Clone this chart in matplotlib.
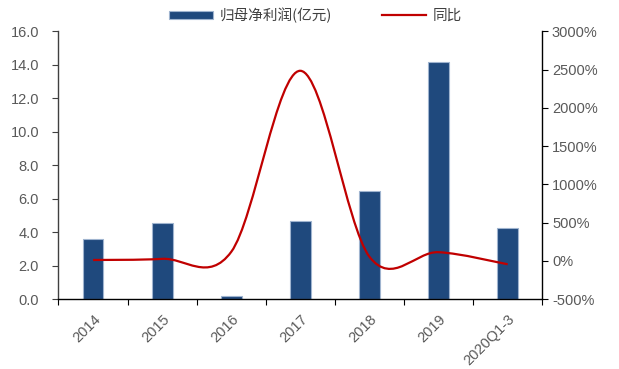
import matplotlib
matplotlib.use("Agg")
import matplotlib.pyplot as plt
import numpy as np
from matplotlib.path import Path
from matplotlib.patches import PathPatch, Patch
from matplotlib.lines import Line2D
from matplotlib.ticker import FixedLocator, FuncFormatter

# data
categories = ["2014", "2015", "2016", "2017", "2018", "2019", "2020Q1-3"]
net_profit = [3.60, 4.54, 0.18, 4.69, 6.47, 14.15, 4.24]   # 归母净利润(亿元)
yoy_pct = [13, 28, 120, 2485, 55, 115, -43]                 # 同比(%)
left_ticks = [0, 2, 4, 6, 8, 10, 12, 14, 16]
right_ticks = [-500, 0, 500, 1000, 1500, 2000, 2500, 3000]

BAR_COLOR = "#1F497D"
LINE_COLOR = "#C00000"
TICK_COLOR = "#595959"
TEXT_FONT = ["Liberation Sans", "DejaVu Sans"]
CJK_FONT = ["Noto Sans CJK SC", "DejaVu Sans"]

plt.rcParams["font.family"] = TEXT_FONT

fig = plt.figure(figsize=(6.19, 3.69), dpi=100)
ax = fig.add_axes([0.0945, 0.189, 0.7815, 0.726])
ax2 = ax.twinx()

x = np.arange(len(categories))
ax.bar(x, net_profit, width=0.3, color=BAR_COLOR, edgecolor="#9FB4CF",
       linewidth=0.8, zorder=2)
ax.set_xlim(-0.5, len(categories) - 0.5)
ax.set_ylim(0, 16)
ax2.set_ylim(-500, 3000)


def smooth_path(xs, ys):
    """Cubic Bezier path through the points (Catmull-Rom style tangents)."""
    pts = np.column_stack([xs, ys]).astype(float)
    n = len(pts)
    verts = [pts[0]]
    codes = [Path.MOVETO]
    for i in range(n - 1):
        p0 = pts[i - 1] if i > 0 else pts[i]
        p1 = pts[i]
        p2 = pts[i + 1]
        p3 = pts[i + 2] if i + 2 < n else pts[i + 1]
        c1 = p1 + (p2 - p0) / 6.0
        c2 = p2 - (p3 - p1) / 6.0
        verts += [c1, c2, p2]
        codes += [Path.CURVE4] * 3
    return Path(verts, codes)


ax2.add_patch(PathPatch(smooth_path(x, yoy_pct), facecolor="none",
                        edgecolor=LINE_COLOR, linewidth=1.6,
                        capstyle="butt", zorder=3))

# spines
for a in (ax, ax2):
    a.spines["top"].set_visible(False)
ax.spines["left"].set_color("#404040")
ax.spines["bottom"].set_color("#000000")
ax2.spines["right"].set_color("#000000")
ax2.spines["left"].set_visible(False)
ax2.spines["bottom"].set_visible(False)
for s in ("left", "bottom"):
    ax.spines[s].set_linewidth(1.0)
ax2.spines["right"].set_linewidth(1.0)
ax.spines["right"].set_visible(False)

# left axis
ax.yaxis.set_major_locator(FixedLocator(left_ticks))
ax.yaxis.set_major_formatter(FuncFormatter(lambda v, p: f"{v:.1f}"))
ax.tick_params(axis="y", direction="out", length=4, width=0.8,
               color="#404040", labelcolor=TICK_COLOR, labelsize=10.5, pad=10)

# right axis
ax2.yaxis.set_major_locator(FixedLocator(right_ticks))
ax2.yaxis.set_major_formatter(FuncFormatter(lambda v, p: f"{v:.0f}%"))
ax2.tick_params(axis="y", direction="out", length=4, width=0.8,
                color="#000000", labelcolor=TICK_COLOR, labelsize=10.5, pad=3)

# category axis: ticks at boundaries, labels at centres
ax.xaxis.set_major_locator(FixedLocator(np.arange(-0.5, len(categories), 1.0)))
ax.xaxis.set_major_formatter(FuncFormatter(lambda v, p: ""))
ax.xaxis.set_minor_locator(FixedLocator(x))
ax.set_xticklabels(categories, minor=True, rotation=45, ha="right",
                   rotation_mode="anchor")
ax.tick_params(axis="x", which="major", direction="out", length=4, width=0.8,
               color="#000000")
ax.tick_params(axis="x", which="minor", length=0, labelcolor=TICK_COLOR,
               labelsize=10.5, pad=9)

# legend
handles = [Patch(facecolor=BAR_COLOR, edgecolor="#9FB4CF", linewidth=0.8),
           Line2D([0], [0], color=LINE_COLOR, linewidth=1.6)]
labels = ["归母净利润(亿元)", "同比"]
leg = fig.legend(handles, labels, loc="upper center",
                 bbox_to_anchor=(0.51, 1.015), ncol=2, frameon=False,
                 prop={"family": CJK_FONT, "size": 10.5},
                 handlelength=3.0, handleheight=0.5, columnspacing=3.4,
                 handletextpad=0.5)
for t in leg.get_texts():
    t.set_color("#404040")

fig.savefig("out.png", dpi=100)
